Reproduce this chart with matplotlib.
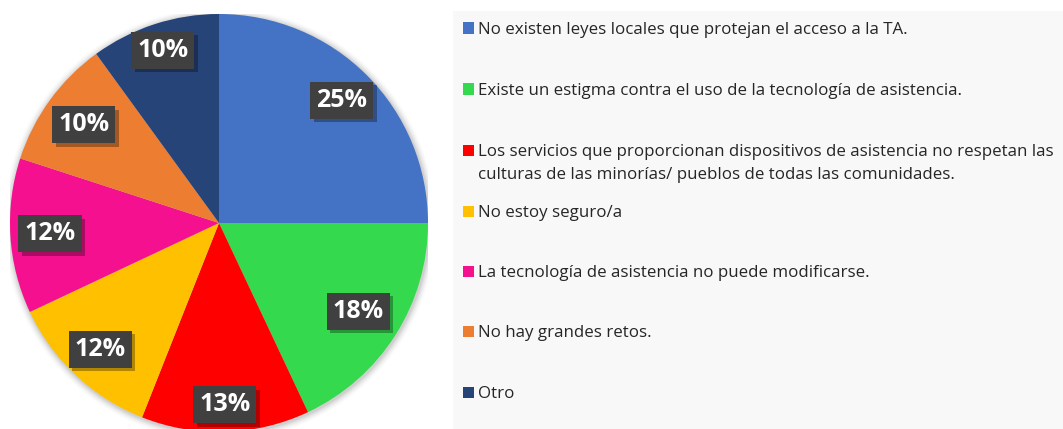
import numpy as np
import matplotlib
matplotlib.use("Agg")
import matplotlib.pyplot as plt
from matplotlib.patches import Rectangle, Circle
import matplotlib.patheffects as pe

categories = [
    "No existen leyes locales que protejan el acceso a la TA.",
    "Existe un estigma contra el uso de la tecnología de asistencia.",
    "Los servicios que proporcionan dispositivos de asistencia no respetan las\nculturas de las minorías/ pueblos de todas las comunidades.",
    "No estoy seguro/a",
    "La tecnología de asistencia no puede modificarse.",
    "No hay grandes retos.",
    "Otro",
]
values = [25, 18, 13, 12, 12, 10, 10]
labels = ["25%", "18%", "13%", "12%", "12%", "10%", "10%"]
colors = ["#4472C4", "#34D94E", "#FF0000", "#FFC000", "#F5108F", "#ED7D31", "#264478"]
label_dist = [0.83, 0.79, 0.87, 0.83, 0.81, 0.80, 0.87]

W, H = 1063, 429
fig = plt.figure(figsize=(W / 100, H / 100), dpi=100)
fig.patch.set_facecolor("white")

# legend background
fig.patches.append(Rectangle((453 / W, 0), (W - 453) / W, (H - 11) / H,
                             transform=fig.transFigure, facecolor="#F8F8F8",
                             edgecolor="none", zorder=0))

cx, cy, R = 219, H - 223, 209
ax = fig.add_axes([(cx - R) / W, (cy - R) / H, 2 * R / W, 2 * R / H])
ax.axis("off")

# soft shadow
for i, a in enumerate(np.linspace(0.05, 0.01, 6)):
    ax.add_patch(Circle((0.004, -0.006), 1.0 + 0.006 * (i + 1), facecolor="#000000",
                        alpha=a, edgecolor="none", zorder=0))

wedges, _ = ax.pie(values, colors=colors, startangle=90, counterclock=False,
                   radius=1.0, wedgeprops=dict(linewidth=0), frame=False)
ax.set_xlim(-1, 1)
ax.set_ylim(-1, 1)
ax.set_aspect("auto")

total = sum(values)
start = 90.0
for v, lab, d in zip(values, labels, label_dist):
    mid = np.deg2rad(start - v / total * 360 / 2)
    start -= v / total * 360
    x, y = d * np.cos(mid), d * np.sin(mid)
    t = ax.text(x, y, lab, ha="center", va="center", fontsize=18, fontweight="bold",
                family="Open Sans", color="white",
                bbox=dict(boxstyle="square,pad=0.24", facecolor="#404040",
                          edgecolor="none"), zorder=5)
    t.get_bbox_patch().set_path_effects(
        [pe.SimplePatchShadow(offset=(2.5, -2.5), shadow_rgbFace="#000000", alpha=0.3),
         pe.Normal()])

# legend
ys = [28, 89, 150, 211, 271, 331, 392]
for cat, col, yy in zip(categories, colors, ys):
    fig.patches.append(Rectangle((463 / W, (H - yy - 5.5) / H), 11 / W, 11 / H,
                                 transform=fig.transFigure, facecolor=col,
                                 edgecolor="none", zorder=2))
    for i, line in enumerate(cat.split("\n")):
        fig.text(478 / W, (H - yy - 23 * i) / H, line, ha="left", va="center_baseline",
                 fontsize=12.15, family="Open Sans", color="#262626")

fig.savefig("out.png", dpi=100)
